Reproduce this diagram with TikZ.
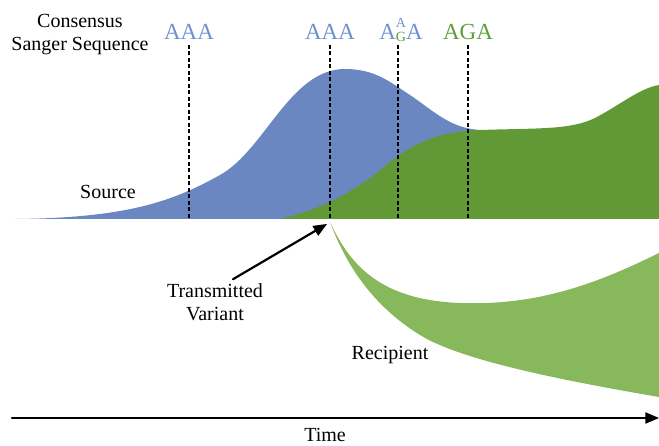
\documentclass[tikz,border=0pt]{standalone}
\usepackage{fontspec}
\setmainfont{Liberation Serif}
\newfontfamily\tnr{Liberation Serif}
\usetikzlibrary{arrows}
\definecolor{srcblue}{rgb}{0.42,0.53,0.76}
\definecolor{srcgreen}{rgb}{0.38,0.60,0.21}
\definecolor{recgreen}{rgb}{0.53,0.72,0.36}
\definecolor{seqblue}{rgb}{0.43,0.57,0.82}
\definecolor{seqgreen}{rgb}{0.37,0.62,0.23}

\begin{document}
\begin{tikzpicture}[line cap=round,line join=round,>=triangle 45,x=1pt,y=-1pt,
  lbl/.style={font=\tnr\fontsize{20}{23}\selectfont,inner sep=0pt},
  seq/.style={font=\tnr\fontsize{23}{25}\selectfont,anchor=base,inner sep=0pt},
  guide/.style={line width=2.2pt,dash pattern=on 4pt off 2.5pt,line cap=butt}]
\useasboundingbox (0,0) rectangle (659,446);
\fill[srcblue] (15,219) .. controls (130,218) and (175,200) .. (220,175) .. controls (265,150) and (290,69) .. (345,69) .. controls (375,69) and (390,82) .. (410,95) .. controls (435,112) and (450,128) .. (480,130) -- (480,219) -- cycle;
\fill[srcgreen] (280,219) .. controls (310,212) and (340,200) .. (370,178) .. controls (400,155) and (420,132) .. (480,130) .. controls (540,128) and (570,130) .. (595,118) .. controls (620,105) and (640,88) .. (659,85) -- (659,219) -- cycle;
\fill[recgreen] (330,222) .. controls (350,265) and (380,300) .. (460,303) .. controls (540,306) and (600,282) .. (659,253) -- (659,397) .. controls (560,380) and (460,360) .. (420,335) .. controls (370,304) and (345,262) .. (330,222) -- cycle;
\coordinate (top) at (0,45);
\coordinate (base) at (0,219);
\node[seq,text=seqblue] (seqa) at (189,40) {AAA};
\node[seq,text=seqblue] (seqb) at (330,40) {AAA};
\node[seq,text=seqblue] (seqc) at (401,40) {A{\fontsize{14}{14}\selectfont\rlap{\raisebox{12pt}{A}}\raisebox{-2pt}{\textcolor{seqgreen}{G}}}A};
\node[seq,text=seqgreen] (seqd) at (468,40) {AGA};
\foreach \s in {seqa,seqb,seqd}
  \draw[guide] (\s |- top) -- (\s |- base);
\draw[guide] ([xshift=-3pt]seqc |- top) -- ([xshift=-3pt]seqc |- base);
\node[lbl,align=center] (consensus) at (80,35) {Consensus\\Sanger Sequence};
\node[lbl] (source) at (108,192) {Source};
\node[lbl,align=center] (variant) at (215,302) {Transmitted\\Variant};
\node[lbl] (recipient) at (390,355) {Recipient};
\coordinate (tip) at (327,224);
\draw[->,line width=2.2pt] ([xshift=18pt,yshift=4pt]variant.north) -- (tip);
\coordinate (tstart) at (12,418);
\coordinate (tend) at (659,418);
\draw[->,line width=2.2pt] (tstart) -- (tend);
\node[lbl] (time) at (325,435) {Time};
\end{tikzpicture}
\end{document}
